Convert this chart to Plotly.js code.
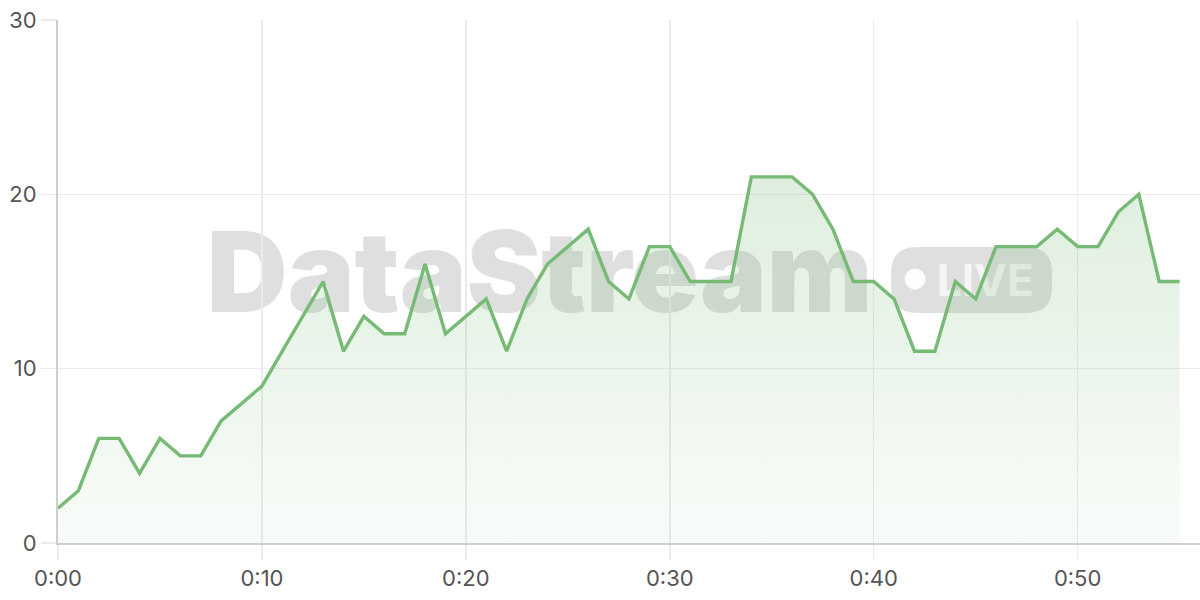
<!DOCTYPE html>
<html>
<head>
<meta charset="utf-8">
<script src="https://cdn.plot.ly/plotly-3.0.1.min.js"></script>
<style>
  html, body { margin: 0; padding: 0; background: #fff; }
  #chart { width: 1200px; height: 600px; }
</style>
</head>
<body>
<div id="chart"></div>
<script>
// minutes since start, one reading per minute
var minutes = [];
for (let i = 0; i <= 55; i++) minutes.push(i);

var counts = [2, 3, 6, 6, 4, 6, 5, 5, 7, 8,
              9, 11, 13, 15, 11, 13, 12, 12, 16, 12,
              13, 14, 11, 14, 16, 17, 18, 15, 14, 17,
              17, 15, 15, 15, 21, 21, 21, 20, 18, 15,
              15, 14, 11, 11, 15, 14, 17, 17, 17, 18,
              17, 17, 19, 20, 15, 15];

var xTickVals = [0, 10, 20, 30, 40, 50];
var xTickText = ['0:00', '0:10', '0:20', '0:30', '0:40', '0:50'];
var yTickVals = [0, 10, 20, 30];

var green = 'rgb(118,186,118)';
var gridColor = '#ebebeb';
var tickFont = { family: 'Inter, "Liberation Sans", sans-serif', size: 22, color: '#555' };

var trace = {
  x: minutes,
  y: counts,
  type: 'scatter',
  mode: 'lines',
  line: { color: green, width: 3.4 },
  fill: 'tozeroy',
  fillgradient: {
    type: 'vertical',
    colorscale: [[0, 'rgba(118,186,118,0.05)'], [1, 'rgba(118,186,118,0.24)']]
  },
  hoverinfo: 'skip'
};

// watermark sits under the trace
var wmGray = 'rgba(140,140,140,0.28)';
function badgePath(w, h, r) {
  var x0 = -w / 2, x1 = w / 2, y0 = -h / 2, y1 = h / 2;
  return 'M' + (x0 + r) + ',' + y0 +
    ' L' + (x1 - r) + ',' + y0 + ' Q' + x1 + ',' + y0 + ' ' + x1 + ',' + (y0 + r) +
    ' L' + x1 + ',' + (y1 - r) + ' Q' + x1 + ',' + y1 + ' ' + (x1 - r) + ',' + y1 +
    ' L' + (x0 + r) + ',' + y1 + ' Q' + x0 + ',' + y1 + ' ' + x0 + ',' + (y1 - r) +
    ' L' + x0 + ',' + (y0 + r) + ' Q' + x0 + ',' + y0 + ' ' + (x0 + r) + ',' + y0 + ' Z';
}

var shapes = [
  {
    type: 'rect', layer: 'below', xref: 'paper', yref: 'paper',
    x0: 0.0917, x1: 0.7517, y0: 0.366, y1: 0.686,
    line: { width: 0 }, fillcolor: 'rgba(0,0,0,0)',
    label: {
      text: 'DataStream', textposition: 'middle center',
      font: { family: 'Inter, "Open Sans", sans-serif', size: 112, weight: 900, color: wmGray }
    }
  },
  {
    type: 'path', layer: 'below', xref: 'paper', yref: 'paper',
    xsizemode: 'pixel', ysizemode: 'pixel', xanchor: 0.800, yanchor: 0.503,
    path: badgePath(161, 66, 26),
    line: { width: 0 }, fillcolor: wmGray
  },
  {
    type: 'circle', layer: 'below', xref: 'paper', yref: 'paper',
    xsizemode: 'pixel', ysizemode: 'pixel', xanchor: 0.7505, yanchor: 0.505,
    x0: -10.5, x1: 10.5, y0: -10.5, y1: 10.5,
    line: { width: 0 }, fillcolor: 'rgba(255,255,255,0.95)'
  },
  {
    type: 'rect', layer: 'below', xref: 'paper', yref: 'paper',
    x0: 0.772, x1: 0.852, y0: 0.46, y1: 0.55,
    line: { width: 0 }, fillcolor: 'rgba(0,0,0,0)',
    label: {
      text: 'LIVE', textposition: 'middle center',
      font: { family: 'Inter, "Open Sans", sans-serif', size: 44, weight: 700, color: 'rgba(255,255,255,0.72)' }
    }
  }
];

var layout = {
  width: 1200,
  height: 600,
  margin: { l: 58, r: 0, t: 20, b: 57 },
  paper_bgcolor: '#fff',
  plot_bgcolor: '#fff',
  showlegend: false,
  xaxis: {
    range: [0, 56],
    tickvals: xTickVals,
    ticktext: xTickText,
    showgrid: true,
    gridcolor: gridColor,
    gridwidth: 1.5,
    ticks: 'outside',
    ticklen: 15,
    tickcolor: gridColor,
    tickwidth: 1.5,
    tickfont: tickFont,
    showline: true,
    linecolor: '#cfcfcf',
    linewidth: 2,
    zeroline: false,
    fixedrange: true
  },
  yaxis: {
    range: [0, 30],
    tickvals: yTickVals,
    showgrid: true,
    gridcolor: gridColor,
    gridwidth: 1.5,
    ticks: 'outside',
    ticklen: 15,
    tickcolor: gridColor,
    tickwidth: 1.5,
    tickfont: tickFont,
    showline: true,
    linecolor: '#cfcfcf',
    linewidth: 2,
    zeroline: false,
    fixedrange: true
  },
  shapes: shapes
};

Plotly.newPlot('chart', [trace], layout, { displayModeBar: false, staticPlot: true });
</script>
</body>
</html>
